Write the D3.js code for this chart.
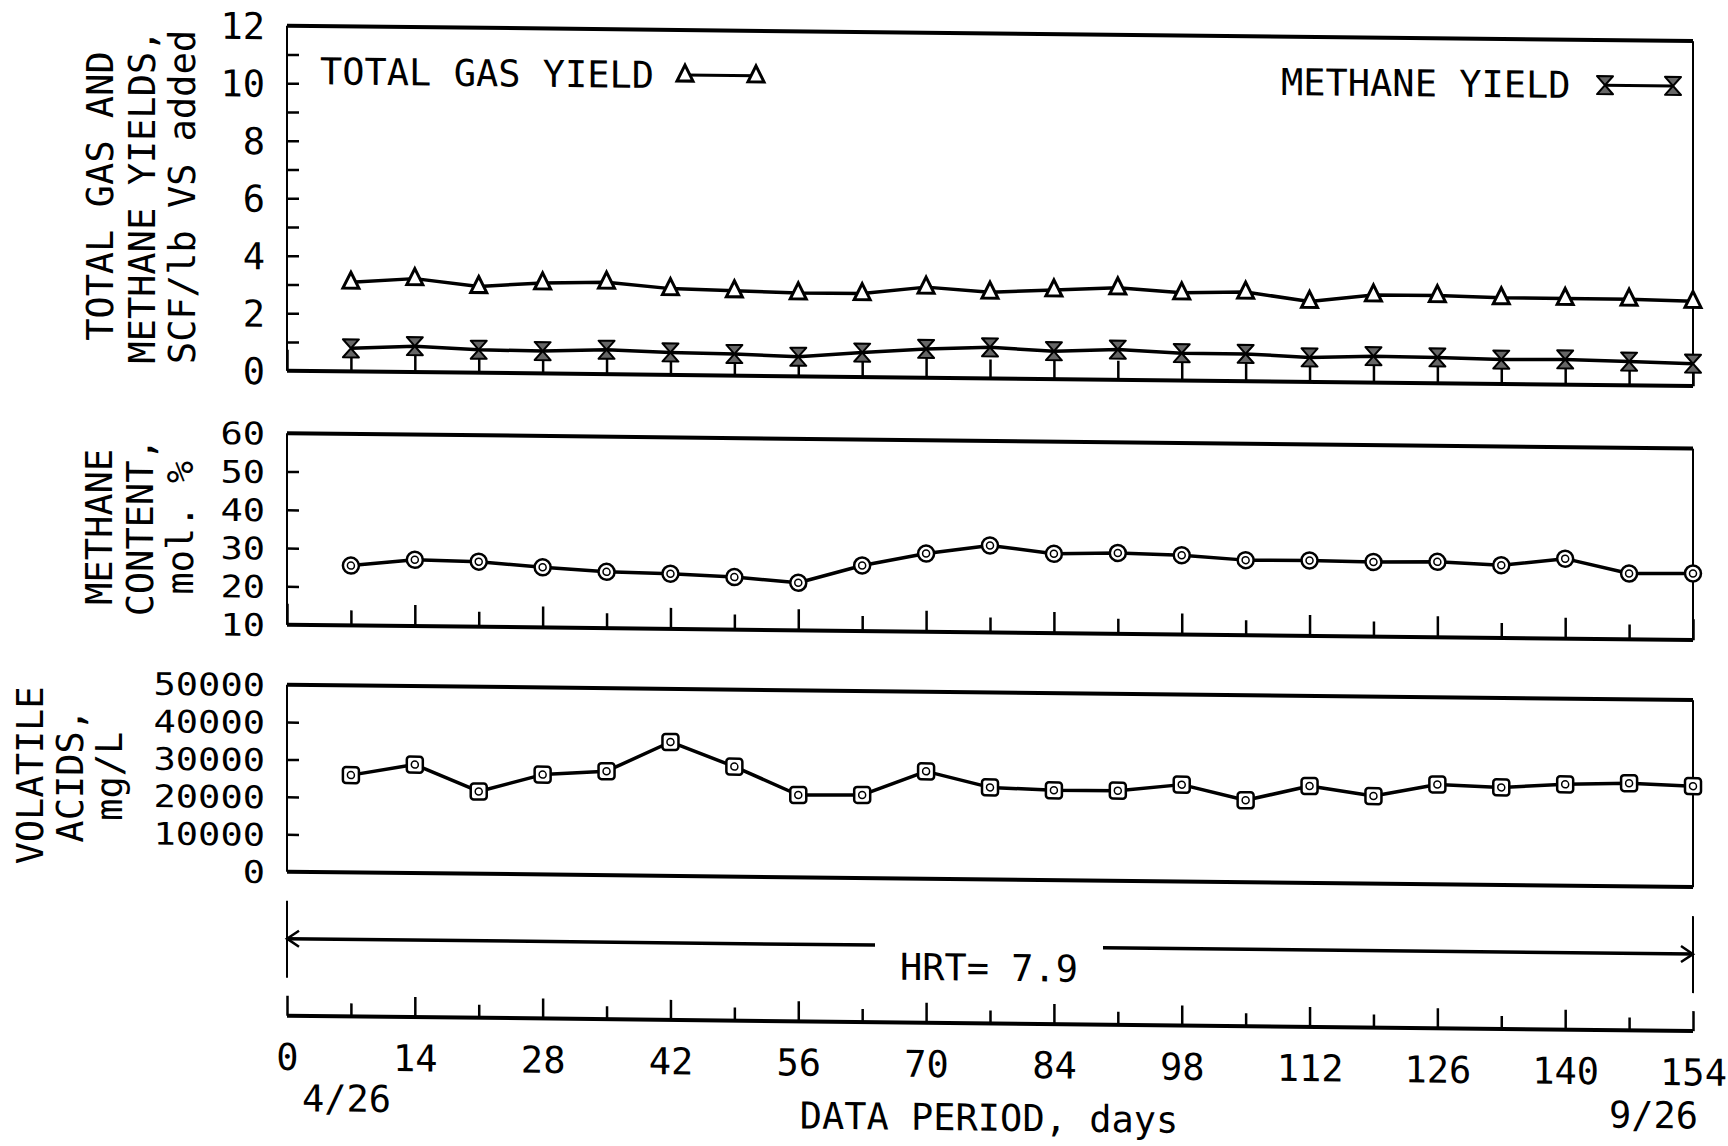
<!DOCTYPE html>
<html>
<head>
<meta charset="utf-8">
<script src="https://cdn.jsdelivr.net/npm/d3@7"></script>
<style>
  body { margin: 0; background: #fff; }
  svg { display: block; background: #fff; }
  text { font-family: "DejaVu Sans Mono", monospace; fill: #000; }
</style>
</head>
<body>
<svg id="chart" width="1728" height="1146"></svg>
<script>
// data (day of data period)
const days = [7, 14, 21, 28, 35, 42, 49, 56, 63, 70, 77, 84, 91, 98, 105, 112, 119, 126, 133, 140, 147, 154];

const totalGasYield = [3.1, 3.25, 3.0, 3.15, 3.2, 3.0, 2.95, 2.9, 2.9, 3.15, 3.0, 3.1, 3.2, 3.05, 3.1, 2.8, 3.05, 3.05, 3.0, 3.0, 3.0, 2.95];
const methaneYield = [0.8, 0.9, 0.8, 0.78, 0.85, 0.78, 0.75, 0.68, 0.85, 1.0, 1.08, 0.97, 1.05, 0.95, 0.95, 0.85, 0.92, 0.9, 0.85, 0.88, 0.83, 0.78];
const methaneContent = [25.6, 27.3, 27.0, 25.7, 24.7, 24.4, 23.7, 22.4, 27.1, 30.4, 32.7, 30.7, 31.1, 30.7, 29.6, 29.7, 29.5, 29.7, 29.0, 30.9, 27.2, 27.4];
const volatileAcids = [26000, 29000, 22000, 26700, 27800, 35800, 29400, 22000, 22200, 28700, 24600, 24000, 24100, 25900, 21900, 25900, 23400, 26700, 26100, 27100, 27600, 27000];

// ticks and labels
const dayTicks = [0, 7, 14, 21, 28, 35, 42, 49, 56, 63, 70, 77, 84, 91, 98, 105, 112, 119, 126, 133, 140, 147, 154];
const dayLabels = [0, 14, 28, 42, 56, 70, 84, 98, 112, 126, 140, 154];
const yieldTicks = [1, 2, 3, 4, 5, 6, 7, 8, 9, 10, 11];
const yieldLabels = [0, 2, 4, 6, 8, 10, 12];
const contentTicks = [20, 30, 40, 50];
const contentLabels = [10, 20, 30, 40, 50, 60];
const acidTicks = [10000, 20000, 30000, 40000];
const acidLabels = [0, 10000, 20000, 30000, 40000, 50000];

const FS = 37;
const CHAR_W = 22.3;
const svg = d3.select("#chart");

// the scanned original is tilted a little, so skew the whole drawing
const root = svg
  .append("g")
  .attr("transform", "translate(864,0) skewY(0.63) translate(-864,0)");

const xScale = d3.scaleLinear().domain([0, 154]).range([287, 1693]);

const panels = [
  { top: 32, bottom: 377, domain: [0, 12], ticks: yieldTicks, labels: yieldLabels, xTicks: true, labelFS: FS,
    title: ["TOTAL GAS AND", "METHANE YIELDS,", "SCF/lb VS added"], titleX: [113, 155, 195] },
  { top: 439.5, bottom: 631, domain: [10, 60], ticks: contentTicks, labels: contentLabels, xTicks: true, labelFS: 31,
    title: ["METHANE", "CONTENT,", "mol. %"], titleX: [112, 153, 193] },
  { top: 691, bottom: 878, domain: [0, 50000], ticks: acidTicks, labels: acidLabels, xTicks: false, labelFS: 31,
    title: ["VOLATILE", "ACIDS,", "mg/L"], titleX: [43, 83, 122] },
];

panels.forEach((p) => {
  p.y = d3.scaleLinear().domain(p.domain).range([p.bottom, p.top]);
});

const symbols = {
  triangle: "M0,-10L8,6L-8,6Z",
  hourglass: "M-8,-9L8,-9L-8,9L8,9Z",
};

function drawFrame(p) {
  const g = root.append("g").attr("stroke", "#000").attr("fill", "none");
  const [x0, x1] = xScale.range();
  g.append("line").attr("x1", x0).attr("x2", x1).attr("y1", p.top).attr("y2", p.top).attr("stroke-width", 4);
  g.append("line").attr("x1", x0).attr("x2", x1).attr("y1", p.bottom).attr("y2", p.bottom).attr("stroke-width", 4);
  g.append("line").attr("x1", x0).attr("x2", x0).attr("y1", p.top).attr("y2", p.bottom).attr("stroke-width", 2);
  g.append("line").attr("x1", x1).attr("x2", x1).attr("y1", p.top).attr("y2", p.bottom).attr("stroke-width", 2);
}

function drawYAxis(p) {
  const x0 = xScale.range()[0];
  // inward ticks
  const tk = root
    .append("g")
    .attr("transform", `translate(${x0},0)`)
    .call(d3.axisRight(p.y).tickValues(p.ticks).tickSize(12).tickFormat(""));
  tk.select(".domain").remove();
  tk.selectAll("line").attr("stroke-width", 2.5);

  const lb = root
    .append("g")
    .attr("transform", `translate(${x0},0)`)
    .call(d3.axisLeft(p.y).tickValues(p.labels).tickSize(0).tickPadding(22).tickFormat(d3.format("d")));
  lb.select(".domain").remove();
  lb.selectAll("text")
    .attr("font-size", p.labelFS)
    .attr("font-family", null)
    .attr("dy", "0.36em");
  // tightly stacked labels: smaller font, stretched to the plotter's width
  if (p.labelFS !== FS) {
    lb.selectAll("text")
      .attr("textLength", (d) => String(d).length * CHAR_W)
      .attr("lengthAdjust", "spacingAndGlyphs");
  }
}

function drawXTicks(y, major, minor) {
  const majorDays = dayTicks.filter((d) => d % 14 === 0);
  const minorDays = dayTicks.filter((d) => d % 14 !== 0);
  [[majorDays, major], [minorDays, minor]].forEach(([vals, len]) => {
    const g = root
      .append("g")
      .attr("transform", `translate(0,${y})`)
      .call(d3.axisTop(xScale).tickValues(vals).tickSize(len).tickFormat(""));
    g.select(".domain").remove();
    g.selectAll("line").attr("stroke-width", 2.5);
  });
}

function drawTitle(p) {
  const cy = (p.top + p.bottom) / 2;
  p.title.forEach((t, i) => {
    root
      .append("text")
      .attr("transform", `translate(${p.titleX[i]},${cy}) rotate(-90)`)
      .attr("text-anchor", "middle")
      .attr("font-size", FS)
      .text(t);
  });
}

function drawSeries(p, values, marker) {
  const pts = days.map((d, i) => ({ day: d, v: values[i] }));
  const line = d3
    .line()
    .x((d) => xScale(d.day))
    .y((d) => p.y(d.v));
  root
    .append("path")
    .datum(pts)
    .attr("fill", "none")
    .attr("stroke", "#000")
    .attr("stroke-width", 3.5)
    .attr("stroke-linejoin", "round")
    .attr("d", line);

  const g = root
    .append("g")
    .selectAll("g")
    .data(pts)
    .join("g")
    .attr("transform", (d) => `translate(${xScale(d.day)},${p.y(d.v)})`);
  drawMarker(g, marker);
}

function drawMarker(g, marker) {
  if (marker === "triangle") {
    g.append("path").attr("d", symbols.triangle).attr("fill", "#fff").attr("stroke", "#000").attr("stroke-width", 3);
  } else if (marker === "hourglass") {
    g.append("path").attr("d", symbols.hourglass).attr("fill", "#666").attr("stroke", "#000").attr("stroke-width", 2).attr("stroke-linejoin", "round");
  } else if (marker === "circle") {
    g.append("circle").attr("r", 8).attr("fill", "#fff").attr("stroke", "#000").attr("stroke-width", 2.5);
    g.append("circle").attr("r", 3.5).attr("fill", "none").attr("stroke", "#000").attr("stroke-width", 1.5);
  } else if (marker === "square") {
    g.append("rect").attr("x", -8).attr("y", -8).attr("width", 16).attr("height", 16).attr("rx", 3)
      .attr("fill", "#fff").attr("stroke", "#000").attr("stroke-width", 2.5);
    g.append("circle").attr("r", 3.5).attr("fill", "none").attr("stroke", "#000").attr("stroke-width", 1.5);
  }
}

function drawLegend(label, x, y, x1, x2, marker) {
  root.append("text").attr("x", x).attr("y", y).attr("dy", "0.36em").attr("font-size", FS).text(label);
  root.append("line").attr("x1", x1).attr("x2", x2).attr("y1", y).attr("y2", y).attr("stroke", "#000").attr("stroke-width", 3);
  const g = root
    .append("g")
    .selectAll("g")
    .data([x1, x2])
    .join("g")
    .attr("transform", (d) => `translate(${d},${y})`);
  drawMarker(g, marker);
}

function drawHRT() {
  const [x0, x1] = xScale.range();
  const yTop = 907, yBot = 984, yArrow = 945;
  const g = root.append("g").attr("stroke", "#000").attr("fill", "none");
  g.append("line").attr("x1", x0).attr("x2", x0).attr("y1", yTop).attr("y2", yBot).attr("stroke-width", 2);
  g.append("line").attr("x1", x1).attr("x2", x1).attr("y1", yTop).attr("y2", yBot).attr("stroke-width", 2);
  g.append("line").attr("x1", x0).attr("x2", 875).attr("y1", yArrow).attr("y2", yArrow).attr("stroke-width", 3.5);
  g.append("line").attr("x1", 1103).attr("x2", x1).attr("y1", yArrow).attr("y2", yArrow).attr("stroke-width", 3.5);
  g.append("path").attr("d", `M${x0 + 12},${yArrow - 8}L${x0},${yArrow}L${x0 + 12},${yArrow + 8}`).attr("stroke-width", 2.5);
  g.append("path").attr("d", `M${x1 - 12},${yArrow - 8}L${x1},${yArrow}L${x1 - 12},${yArrow + 8}`).attr("stroke-width", 2.5);
  root.append("text").attr("x", 989).attr("y", 966).attr("dy", "0.36em").attr("text-anchor", "middle").attr("font-size", FS).text("HRT= 7.9");
}

function drawBottomAxis() {
  const yAxis = 1022;
  const [x0, x1] = xScale.range();
  root.append("line").attr("x1", x0).attr("x2", x1).attr("y1", yAxis).attr("y2", yAxis).attr("stroke", "#000").attr("stroke-width", 4);
  drawXTicks(yAxis, 20, 13);

  const lb = root
    .append("g")
    .attr("transform", `translate(0,${yAxis})`)
    .call(d3.axisBottom(xScale).tickValues(dayLabels).tickSize(0).tickPadding(28).tickFormat(d3.format("d")));
  lb.select(".domain").remove();
  lb.selectAll("text").attr("font-size", FS).attr("font-family", null);

  root.append("text").attr("x", x0 + 15).attr("y", 1104).attr("dy", "0.36em").attr("font-size", FS).text("4/26");
  root.append("text").attr("x", x1 + 5).attr("y", 1106).attr("dy", "0.36em").attr("text-anchor", "end").attr("font-size", FS).text("9/26");
  root.append("text").attr("x", 989).attr("y", 1116).attr("dy", "0.36em").attr("text-anchor", "middle").attr("font-size", FS).text("DATA PERIOD, days");
}

// panels
panels.forEach((p, i) => {
  if (p.xTicks) drawXTicks(p.bottom, 21, i === 0 ? 19 : 15);
  drawFrame(p);
  drawYAxis(p);
  drawTitle(p);
});

drawSeries(panels[0], totalGasYield, "triangle");
drawSeries(panels[0], methaneYield, "hourglass");
drawSeries(panels[1], methaneContent, "circle");
drawSeries(panels[2], volatileAcids, "square");

drawLegend("TOTAL GAS YIELD", 320, 77, 685, 756, "triangle");
drawLegend("METHANE YIELD", 1281, 77, 1605, 1673, "hourglass");

drawHRT();
drawBottomAxis();
</script>
</body>
</html>
